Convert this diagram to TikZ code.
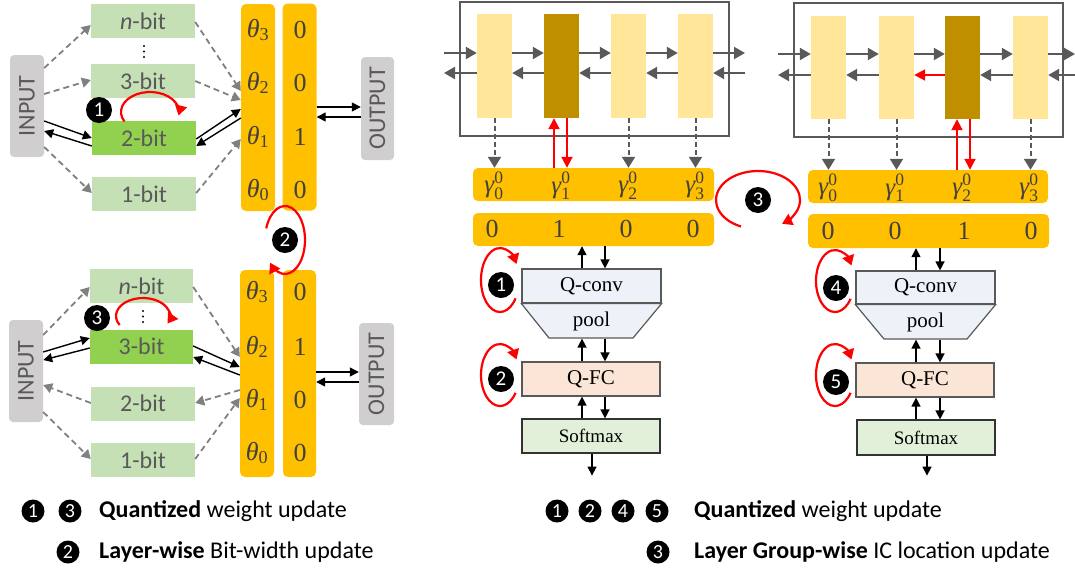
\documentclass[tikz,border=0pt]{standalone}
\usepackage{amsmath}
\usepackage{fontspec}
\setmainfont{Carlito}
\newfontfamily\serifrm{Liberation Serif}
\usepackage{graphicx}
\usepackage{tikz}
\usetikzlibrary{arrows.meta}
\definecolor{boxGray}{HTML}{D0CECE}
\definecolor{txtGray}{HTML}{595959}
\definecolor{valGray}{HTML}{404040}
\definecolor{bitGreen}{HTML}{C5E0B4}
\definecolor{bitActive}{HTML}{92D050}
\definecolor{colOrange}{HTML}{FFC000}
\definecolor{barLight}{HTML}{FFE699}
\definecolor{barDark}{HTML}{BF8F00}
\definecolor{lineGray}{HTML}{808080}
\definecolor{frameGray}{HTML}{595959}
\definecolor{convBlue}{HTML}{EDF2F9}
\definecolor{fcPeach}{HTML}{FBE5D6}
\definecolor{smGreen}{HTML}{E2F0D9}
\newcommand{\symsub}[2]{$\text{\itshape #1}_{\text{#2}}$}
\newcommand{\symsubsup}[3]{$\text{\itshape #1}^{\text{#3}}_{\text{#2}}$}

\begin{document}
\begin{tikzpicture}[x=1pt, y=-1pt,
    iobox/.style={fill=boxGray, rounded corners=4pt, minimum width=34pt, minimum height=102pt, inner sep=0pt, text=txtGray, font=\fontsize{24}{24}\selectfont},
    bitbox/.style={fill=bitGreen, minimum width=104pt, minimum height=34pt, inner sep=0pt, text=txtGray, font=\fontsize{24}{24}\selectfont},
    activebox/.style={bitbox, fill=bitActive},
    column/.style={fill=colOrange, rounded corners=5pt, minimum width=34pt, minimum height=207pt, inner sep=0pt},
    rowbox/.style={fill=colOrange, rounded corners=5pt, minimum width=241pt, minimum height=33pt, inner sep=0pt},
    colval/.style={text=valGray, font=\serifrm\fontsize{26}{26}\selectfont, inner sep=0pt},
    gamval/.style={colval, font=\serifrm\fontsize{25}{25}\selectfont},
    frame/.style={draw=frameGray, line width=1.8pt, minimum width=269pt, minimum height=134pt, inner sep=0pt},
    bar/.style={fill=barLight, minimum width=35pt, minimum height=104pt, inner sep=0pt},
    darkbar/.style={bar, fill=barDark},
    layer/.style={draw=frameGray, line width=1.2pt, minimum width=139pt, minimum height=34pt, inner sep=0pt, font=\serifrm\fontsize{21}{21}\selectfont},
    badge/.style={circle, fill=black, text=white, minimum size=26pt, inner sep=0pt, font=\fontsize{21}{21}\selectfont},
    keybadge/.style={badge, minimum size=23pt, font=\fontsize{20}{20}\selectfont},
    keytext/.style={anchor=west, inner sep=0pt, font=\fontsize{24}{24}\selectfont},
    dotmark/.style={circle, fill=black, inner sep=0pt, minimum size=2.4pt},
    dasharr/.style={lineGray, line width=1.8pt, dash pattern=on 6pt off 4pt, -{Triangle[length=9pt,width=10pt]}},
    blkarr/.style={black, line width=1.4pt, -{Triangle[length=9pt,width=9pt]}},
    flowarr/.style={frameGray, line width=2.2pt, -{Triangle[length=11pt,width=12pt]}},
    vdash/.style={frameGray, line width=2pt, dash pattern=on 5pt off 3pt, -{Triangle[length=11pt,width=13pt]}},
    redarr/.style={red, line width=2pt, -{Triangle[length=11pt,width=11pt]}},
    redloop/.style={red, line width=2.2pt, -{Triangle[length=10pt,width=12pt]}}]
  \useasboundingbox (0,0) rectangle (1075,571);

  % upper left: bit-width search
  \node[iobox] (inA) at (27,106) {\rotatebox{90}{INPUT}};
  \node[bitbox] (nA) at (143,21) {\textit{n}-bit};
  \node[dotmark] (dA1) at (144,46) {};
  \node[dotmark] (dA2) at (144,51.5) {};
  \node[dotmark] (dA3) at (144,57) {};
  \node[bitbox] (b3A) at (143,81) {3-bit};
  \node[activebox] (b2A) at (144,138) {2-bit};
  \node[bitbox] (b1A) at (144,194) {1-bit};
  \node[column] (thA) at (258,107.5) {};
  \node[column] (bitA) at (299.5,107) {};
  \node[colval] (tA3) at (258,30) {\symsub{θ}{3}};
  \node[colval] (tA2) at (258,83) {\symsub{θ}{2}};
  \node[colval] (tA1) at (258,137) {\symsub{θ}{1}};
  \node[colval] (tA0) at (258,190) {\symsub{θ}{0}};
  \node[colval] (vA3) at (300,30) {0};
  \node[colval] (vA2) at (300,83) {0};
  \node[colval] (vA1) at (300,137) {1};
  \node[colval] (vA0) at (300,190) {0};
  \node[iobox, minimum width=33pt, minimum height=103pt] (outA) at (377.5,108.5) {\rotatebox{90}{OUTPUT}};

  \draw[dasharr] (inA.east |- 0,68) -- (nA.west |- 0,25);
  \draw[dasharr] (inA.east |- 0,94) -- (b3A.west |- 0,80);
  \draw[blkarr] (inA.east |- 0,121) -- (b2A.west |- 0,138);
  \draw[blkarr] (b2A.west |- 0,146) -- (inA.east |- 0,131);
  \draw[dasharr] (inA.east |- 0,147) -- (b1A.west |- 0,193);
  \draw[dasharr] (nA.east |- 0,22) -- (thA.west |- 0,91);
  \draw[dasharr] (b3A.east |- 0,81) -- (thA.west |- 0,100);
  \draw[blkarr] (b2A.east |- 0,139) -- (thA.west |- 0,109);
  \draw[blkarr] (thA.west |- 0,118) -- (b2A.east |- 0,146);
  \draw[dasharr] (b1A.east |- 0,193) -- (thA.west |- 0,139);
  \draw[blkarr] (bitA.east |- 0,107) -- (outA.west |- 0,107);
  \draw[blkarr] (outA.west |- 0,117) -- (bitA.east |- 0,117);

  \node[badge] (bdg1A) at (99,110) {1};
  \draw[redloop] (150,112) ++(152:29 and 20) arc[start angle=152, end angle=370, x radius=29, y radius=20];

  % lower left
  \node[iobox] (inB) at (26,371) {\rotatebox{90}{INPUT}};
  \node[bitbox, minimum width=103pt] (nB) at (141.5,286) {\textit{n}-bit};
  \node[dotmark] (dB1) at (143,311) {};
  \node[dotmark] (dB2) at (143,316.5) {};
  \node[dotmark] (dB3) at (143,322) {};
  \node[activebox, minimum width=103pt] (b3B) at (141.5,346.5) {3-bit};
  \node[bitbox] (b2B) at (143,403.5) {2-bit};
  \node[bitbox] (b1B) at (143,460) {1-bit};
  \node[column] (thB) at (257,373.5) {};
  \node[column, minimum width=33pt] (bitB) at (299.5,373.5) {};
  \node[colval] (tB3) at (257,292) {\symsub{θ}{3}};
  \node[colval] (tB2) at (257,347) {\symsub{θ}{2}};
  \node[colval] (tB1) at (257,400) {\symsub{θ}{1}};
  \node[colval] (tB0) at (257,453) {\symsub{θ}{0}};
  \node[colval] (vB3) at (300,292) {0};
  \node[colval] (vB2) at (300,347) {1};
  \node[colval] (vB1) at (300,400) {0};
  \node[colval] (vB0) at (300,453) {0};
  \node[iobox, minimum width=35pt] (outB) at (376.5,374) {\rotatebox{90}{OUTPUT}};

  \draw[dasharr] (inB.east |- 0,335) -- (nB.west |- 0,287);
  \draw[blkarr] (inB.east |- 0,352) -- (b3B.west |- 0,338);
  \draw[blkarr] (b3B.west |- 0,348) -- (inB.east |- 0,360);
  \draw[dasharr] (b2B.west |- 0,403) -- (inB.east |- 0,385);
  \draw[dasharr] (inB.east |- 0,412) -- (b1B.west |- 0,459);
  \draw[dasharr] (nB.east |- 0,287) -- (thB.west |- 0,357);
  \draw[blkarr] (b3B.east |- 0,346) -- (thB.west |- 0,367);
  \draw[blkarr] (thB.west |- 0,375) -- (b3B.east |- 0,357);
  \draw[dasharr] (thB.west |- 0,390) -- (b2B.east |- 0,403);
  \draw[dasharr] (b1B.east |- 0,459) -- (thB.west |- 0,398);
  \draw[blkarr] (bitB.east |- 0,372) -- (outB.west |- 0,372);
  \draw[blkarr] (outB.west |- 0,382) -- (bitB.east |- 0,382);

  \node[badge] (bdg3B) at (97,318) {3};
  \draw[redloop] (143,316) ++(150:27 and 18) arc[start angle=150, end angle=385, x radius=27, y radius=18];

  \node[badge] (bdg2A) at (285,240) {2};
  \draw[redloop] (bdg2A.center) ++(200:20 and 34) arc[start angle=200, end angle=498, x radius=20, y radius=34];

  % middle: first layer group
  \node[frame] (frameC) at (594.5,69) {};
  \node[bar] (c1) at (494.5,66) {};
  \node[darkbar] (c2) at (561.5,66) {};
  \node[bar] (c3) at (628.5,66) {};
  \node[bar] (c4) at (695.5,66) {};
  \coordinate (cinF) at (444,53);
  \coordinate (cinB) at (444,73);
  \coordinate (coutF) at (745,53);
  \coordinate (coutB) at (745,73);
  \draw[flowarr] (cinF) -- (c1.west |- cinF);
  \draw[flowarr] (c1.east |- cinF) -- (c2.west |- cinF);
  \draw[flowarr] (c2.east |- cinF) -- (c3.west |- cinF);
  \draw[flowarr] (c3.east |- cinF) -- (c4.west |- cinF);
  \draw[flowarr] (c4.east |- coutF) -- (coutF);
  \draw[flowarr] (coutB) -- (c4.east |- coutB);
  \draw[flowarr] (c4.west |- cinB) -- (c3.east |- cinB);
  \draw[flowarr] (c3.west |- cinB) -- (c2.east |- cinB);
  \draw[flowarr] (c2.west |- cinB) -- (c1.east |- cinB);
  \draw[flowarr] (c1.west |- cinB) -- (cinB);

  \node[rowbox] (gC) at (593.5,184.5) {};
  \node[gamval] (gc0) at (494,186) {\symsubsup{γ}{0}{0}};
  \node[gamval] (gc1) at (561,186) {\symsubsup{γ}{1}{0}};
  \node[gamval] (gc2) at (628,186) {\symsubsup{γ}{2}{0}};
  \node[gamval] (gc3) at (695,186) {\symsubsup{γ}{3}{0}};
  \draw[vdash] (c1.south) -- (c1.south |- gC.north);
  \draw[vdash] (c3.south) -- (c3.south |- gC.north);
  \draw[vdash] (c4.south) -- (c4.south |- gC.north);
  \draw[redarr] (gC.north -| 554,0) -- (c2.south -| 554,0);
  \draw[redarr] (c2.south -| 567,0) -- (gC.north -| 567,0);

  \node[rowbox] (bC) at (593.5,229.5) {};
  \node[colval] (bc0) at (492,229) {0};
  \node[colval] (bc1) at (559,229) {1};
  \node[colval] (bc2) at (626,229) {0};
  \node[colval] (bc3) at (693,229) {0};

  \node[layer, fill=convBlue] (qcC) at (591.5,286) {Q-conv};
  \draw[draw=frameGray, line width=1.2pt, fill=convBlue] (qcC.south west) -- (qcC.south east) -- (633,338) -- (549,338) -- cycle;
  \node[layer, draw=none] (poolC) at (591.5,321) {pool};
  \node[layer, fill=fcPeach, minimum width=138pt] (qfcC) at (591,379) {Q-FC};
  \node[layer, fill=smGreen, minimum width=138pt, draw=black!80, font=\serifrm\fontsize{19}{19}\selectfont] (smC) at (591,436) {Softmax};
  \draw[blkarr] (qcC.north -| 582,0) -- (bC.south -| 582,0);
  \draw[blkarr] (bC.south -| 605,0) -- (qcC.north -| 605,0);
  \draw[blkarr] (qfcC.north -| 582,0) -- (poolC.south -| 582,0);
  \draw[blkarr] (poolC.south -| 605,0) -- (qfcC.north -| 605,0);
  \draw[blkarr] (smC.north -| 582,0) -- (qfcC.south -| 582,0);
  \draw[blkarr] (qfcC.south -| 605,0) -- (smC.north -| 605,0);
  \draw[blkarr] (smC.south -| 592,0) -- ++(0,22);

  \node[badge] (bdg1C) at (501,285) {1};
  \draw[redloop] (500,280) ++(35:19 and 32) arc[start angle=35, end angle=330, x radius=19, y radius=32];
  \node[badge] (bdg2C) at (501,379) {2};
  \draw[redloop] (500,375) ++(35:19 and 31) arc[start angle=35, end angle=330, x radius=19, y radius=31];

  \node[badge] (bdg3C) at (758,200) {3};
  \draw[redloop] (bdg3C.center) ++(114:42 and 29) arc[start angle=114, end angle=415, x radius=42, y radius=29];

  % right: next layer group
  \node[frame] (frameD) at (928.5,70) {};
  \node[bar, minimum height=103pt] (d1) at (828.5,67.5) {};
  \node[bar, minimum height=103pt] (d2) at (896.5,67.5) {};
  \node[darkbar, minimum height=103pt] (d3) at (962.5,67.5) {};
  \node[bar, minimum height=103pt] (d4) at (1030.5,67.5) {};
  \coordinate (dinF) at (778,54);
  \coordinate (dinB) at (778,75);
  \coordinate (doutF) at (1075,54);
  \coordinate (doutB) at (1075,75);
  \draw[flowarr] (dinF) -- (d1.west |- dinF);
  \draw[flowarr] (d1.east |- dinF) -- (d2.west |- dinF);
  \draw[flowarr] (d2.east |- dinF) -- (d3.west |- dinF);
  \draw[flowarr] (d3.east |- dinF) -- (d4.west |- dinF);
  \draw[flowarr] (d4.east |- doutF) -- (doutF);
  \draw[flowarr] (doutB) -- (d4.east |- doutB);
  \draw[flowarr] (d4.west |- dinB) -- (d3.east |- dinB);
  \draw[redarr] (d3.west |- dinB) -- (d2.east |- dinB);
  \draw[flowarr] (d2.west |- dinB) -- (d1.east |- dinB);
  \draw[flowarr] (d1.west |- dinB) -- (dinB);

  \node[rowbox, minimum width=240pt] (gD) at (928,186.5) {};
  \node[gamval] (gd0) at (828,188) {\symsubsup{γ}{0}{0}};
  \node[gamval] (gd1) at (895,188) {\symsubsup{γ}{1}{0}};
  \node[gamval] (gd2) at (962,188) {\symsubsup{γ}{2}{0}};
  \node[gamval] (gd3) at (1029,188) {\symsubsup{γ}{3}{0}};
  \draw[vdash] (d1.south) -- (d1.south |- gD.north);
  \draw[vdash] (d2.south) -- (d2.south |- gD.north);
  \draw[vdash] (d4.south) -- (d4.south |- gD.north);
  \draw[redarr] (gD.north -| 957,0) -- (d3.south -| 957,0);
  \draw[redarr] (d3.south -| 970,0) -- (gD.north -| 970,0);

  \node[rowbox, minimum height=34pt] (bD) at (928.5,231) {};
  \node[colval] (bd0) at (828,231) {0};
  \node[colval] (bd1) at (895,231) {0};
  \node[colval] (bd2) at (964,231) {1};
  \node[colval] (bd3) at (1031,231) {0};

  \node[layer, fill=convBlue, minimum height=33pt] (qcD) at (925.5,287.5) {Q-conv};
  \draw[draw=frameGray, line width=1.2pt, fill=convBlue] (qcD.south west) -- (qcD.south east) -- (967,339) -- (884,339) -- cycle;
  \node[layer, draw=none] (poolD) at (925.5,322) {pool};
  \node[layer, fill=fcPeach, minimum width=138pt] (qfcD) at (925,380) {Q-FC};
  \node[layer, fill=smGreen, minimum width=138pt, minimum height=35pt, draw=black!80, font=\serifrm\fontsize{19}{19}\selectfont] (smD) at (926,437.5) {Softmax};
  \draw[blkarr] (qcD.north -| 916,0) -- (bD.south -| 916,0);
  \draw[blkarr] (bD.south -| 940,0) -- (qcD.north -| 940,0);
  \draw[blkarr] (qfcD.north -| 916,0) -- (poolD.south -| 916,0);
  \draw[blkarr] (poolD.south -| 940,0) -- (qfcD.north -| 940,0);
  \draw[blkarr] (smD.north -| 916,0) -- (qfcD.south -| 916,0);
  \draw[blkarr] (qfcD.south -| 940,0) -- (smD.north -| 940,0);
  \draw[blkarr] (smD.south -| 927,0) -- ++(0,20);

  \node[badge] (bdg4D) at (836,288) {4};
  \draw[redloop] (835,281) ++(35:19 and 31) arc[start angle=35, end angle=330, x radius=19, y radius=31];
  \node[badge] (bdg5D) at (836,382) {5};
  \draw[redloop] (835,375) ++(35:19 and 31) arc[start angle=35, end angle=330, x radius=19, y radius=31];

  % legends
  \node[keybadge] (kA1) at (33,511) {1};
  \node[keybadge] (kA3) at (70,511) {3};
  \node[keytext] (kAq) at (99,511) {\textbf{Quantized} weight update};
  \node[keybadge] (kA2) at (68,552) {2};
  \node[keytext] (kAl) at (99,552) {\textbf{Layer-wise} Bit-width update};
  \node[keybadge] (kC1) at (557,511) {1};
  \node[keybadge] (kC2) at (590,511) {2};
  \node[keybadge] (kC4) at (623,511) {4};
  \node[keybadge] (kC5) at (657,511) {5};
  \node[keytext] (kCq) at (694,511) {\textbf{Quantized} weight update};
  \node[keybadge] (kC3) at (658,552) {3};
  \node[keytext] (kCl) at (694,552) {\textbf{Layer Group-wise} IC location update};
\end{tikzpicture}
\end{document}
